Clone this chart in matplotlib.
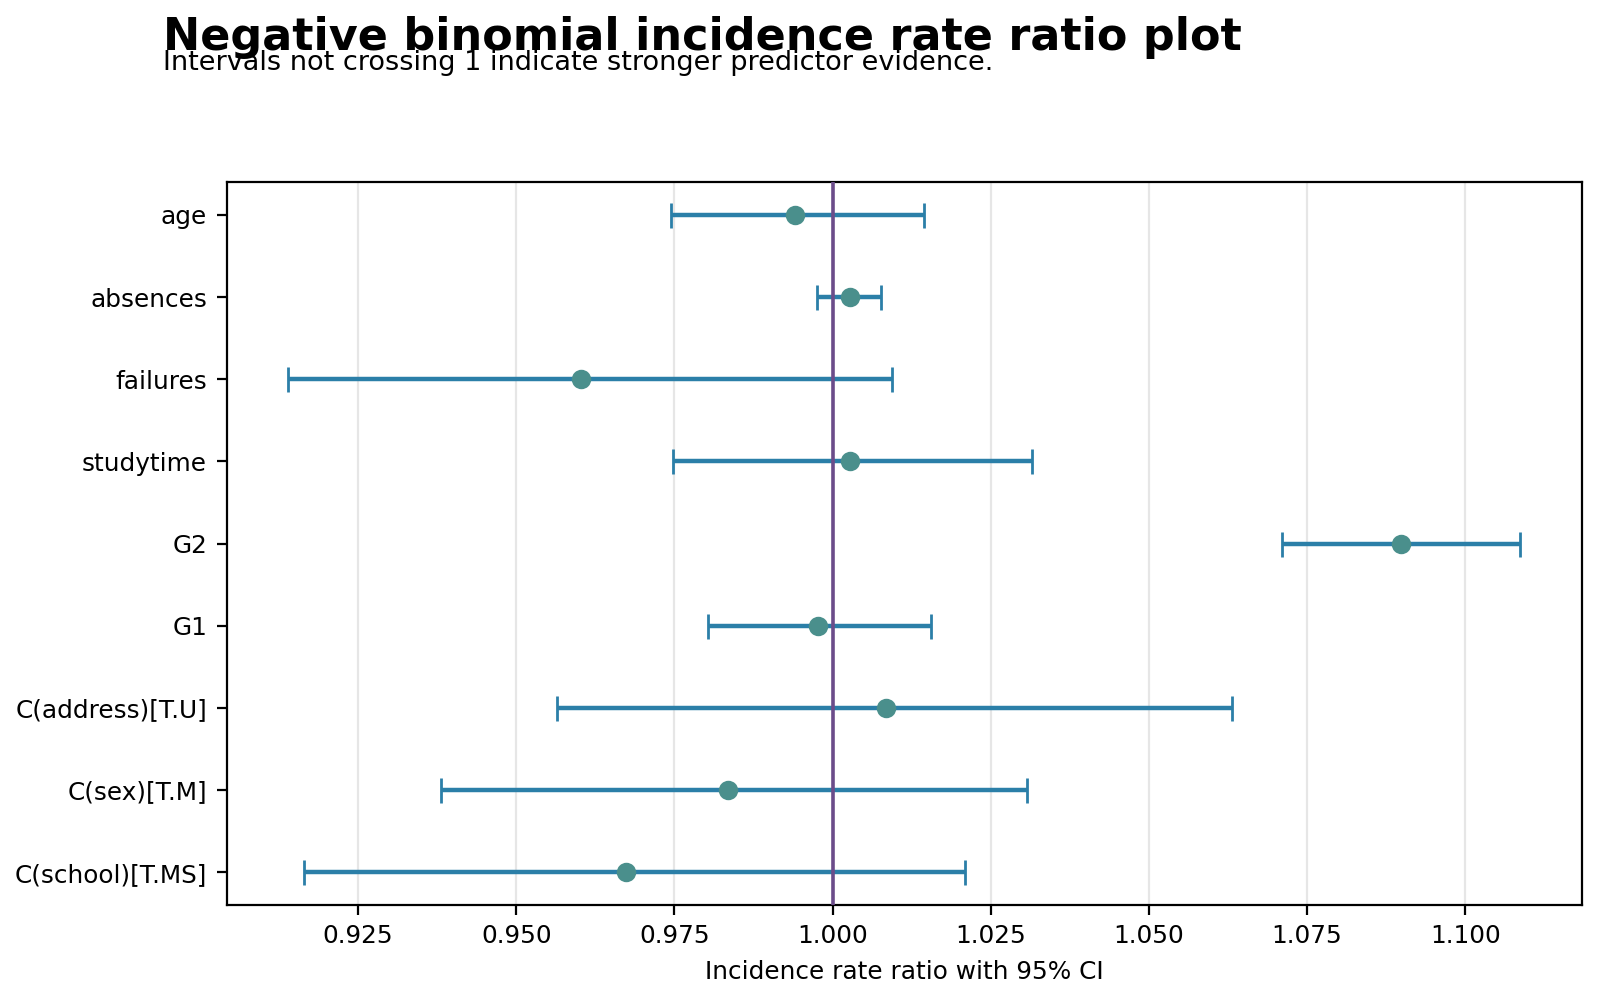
import numpy as np
import matplotlib.pyplot as plt

# predictors listed bottom-up
terms = ['C(school)[T.MS]', 'C(sex)[T.M]', 'C(address)[T.U]', 'G1', 'G2',
         'studytime', 'failures', 'absences', 'age']
irr = [0.9673, 0.9834, 1.0084, 0.9977, 1.0898, 1.0027, 0.9603, 1.0027, 0.9940]
ci_low = [0.9165, 0.9381, 0.9565, 0.9803, 1.0711, 0.9747, 0.9139, 0.9976, 0.9744]
ci_high = [1.0210, 1.0308, 1.0632, 1.0155, 1.1087, 1.0316, 1.0094, 1.0077, 1.0144]

irr = np.array(irr)
err = np.array([irr - np.array(ci_low), np.array(ci_high) - irr])
y = np.arange(len(terms))

fig = plt.figure(figsize=(8, 5), dpi=200)
ax = fig.add_axes([0.1416, 0.095, 0.8469, 0.723])

ax.errorbar(irr, y, xerr=err, fmt='none', ecolor='#2b7fa8', elinewidth=1.6,
            capsize=4.5, capthick=1.0, zorder=2)
ax.plot(irr, y, 'o', color='#4a8f8c', markersize=6, zorder=4)
ax.axvline(1.0, color='#6b4c8a', linewidth=1.3, zorder=3)

ax.set_yticks(y)
ax.set_yticklabels(terms, fontsize=8.9)
ax.set_ylim(-0.4, 8.4)
ax.set_xlim(0.9042, 1.1184)
ax.set_xticks(np.arange(0.925, 1.101, 0.025))
ax.xaxis.set_major_formatter(plt.FormatStrFormatter('%.3f'))
ax.tick_params(axis='x', labelsize=8.9)
ax.grid(axis='x', color='#e6e6e6', linewidth=0.8, zorder=0)
ax.set_axisbelow(True)
ax.set_xlabel('Incidence rate ratio with 95% CI', fontsize=8.9)

fig.text(0.102, 0.941, 'Negative binomial incidence rate ratio plot',
         fontsize=16, fontweight='bold', va='bottom')
fig.text(0.102, 0.937, 'Intervals not crossing 1 indicate stronger predictor evidence.',
         fontsize=9.75, va='center')

fig.savefig('out.png', dpi=200)
